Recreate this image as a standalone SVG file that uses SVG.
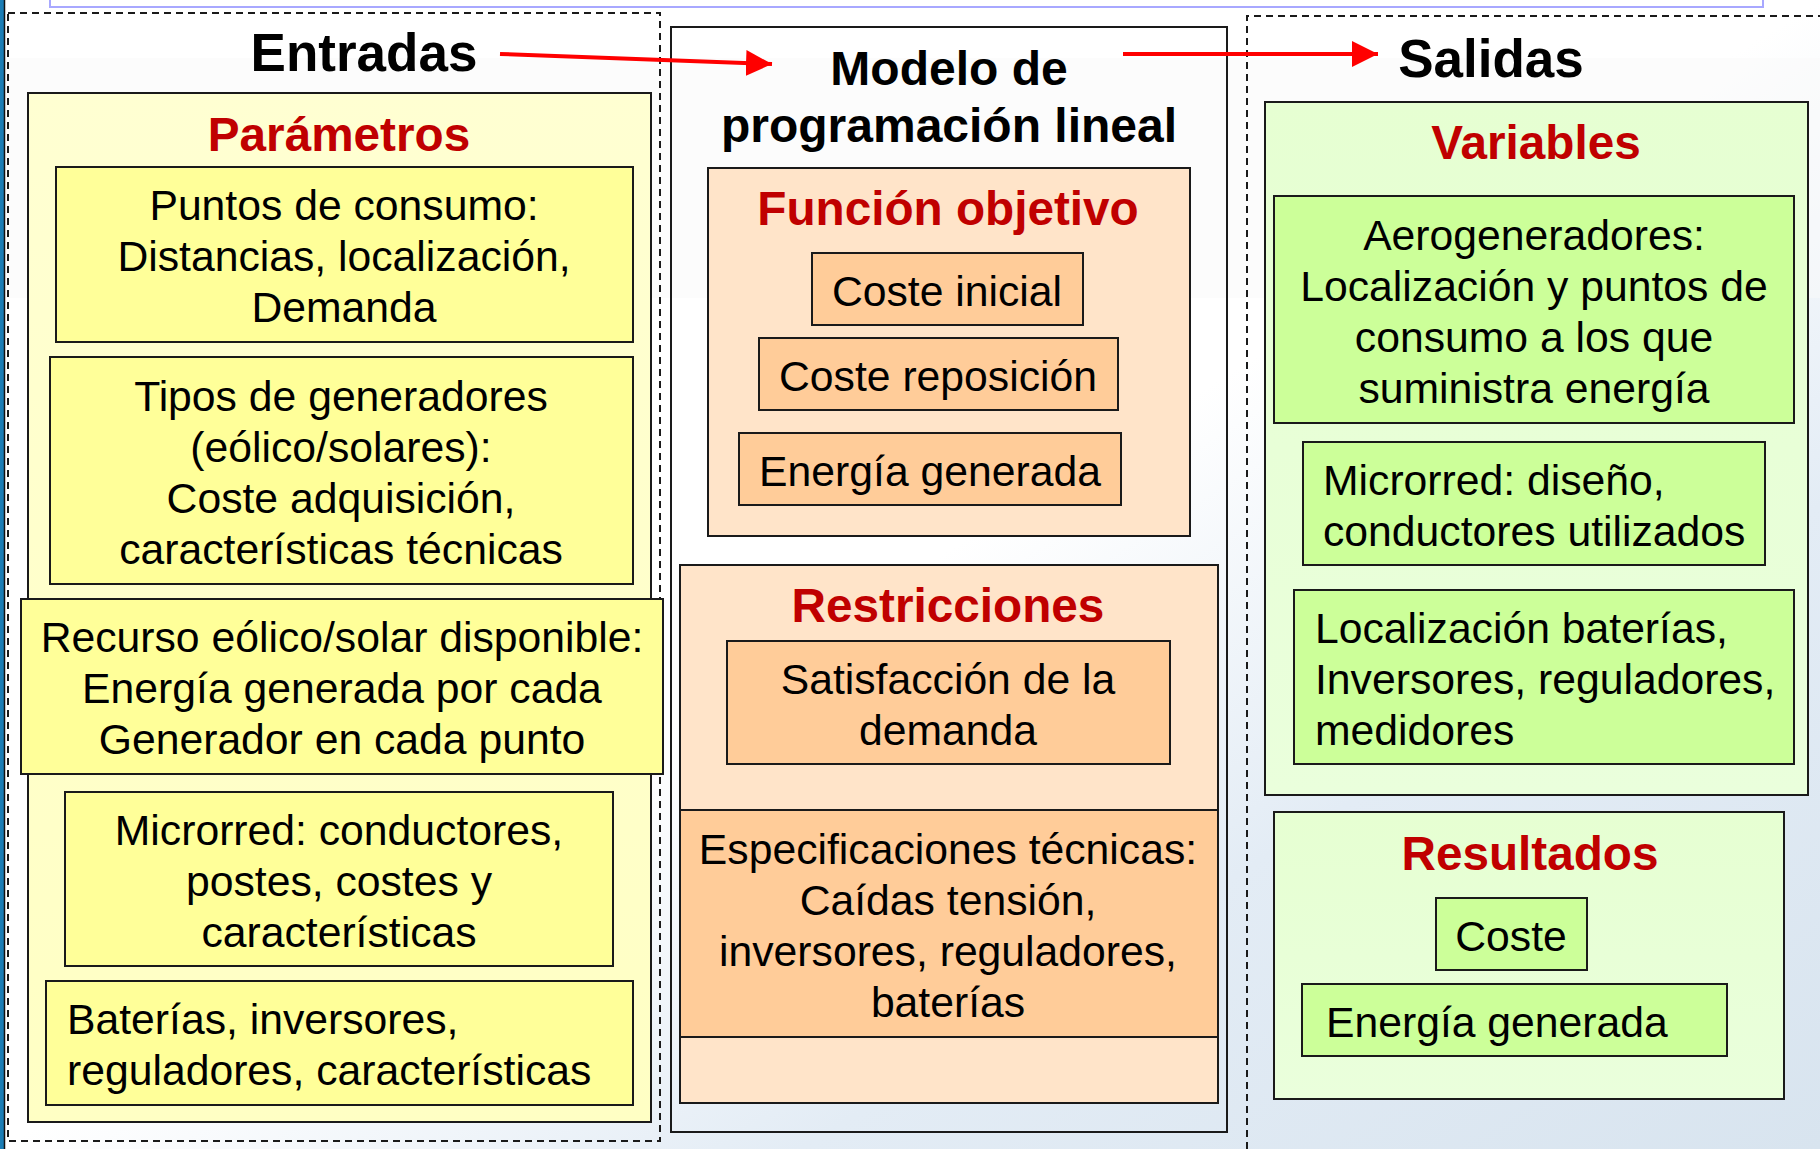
<svg xmlns="http://www.w3.org/2000/svg" width="1820" height="1149" viewBox="0 0 1820 1149">
<defs>
<linearGradient id="bg" x1="0" y1="0" x2="1" y2="1">
<stop offset="0" stop-color="#ffffff"/>
<stop offset="0.5" stop-color="#ffffff"/>
<stop offset="0.72" stop-color="#e3ecf5"/>
<stop offset="1" stop-color="#d8e4ef"/>
</linearGradient>
<linearGradient id="yel" x1="0" y1="0" x2="0" y2="1">
<stop offset="0" stop-color="#ffffd2"/>
<stop offset="1" stop-color="#ffffc4"/>
</linearGradient>
<linearGradient id="grn" x1="0" y1="0" x2="0" y2="1">
<stop offset="0" stop-color="#e6ffd2"/>
<stop offset="1" stop-color="#eaffdc"/>
</linearGradient>
<marker id="ah" viewBox="0 0 10 10" refX="10" refY="5" markerWidth="6.5" markerHeight="6.5" markerUnits="strokeWidth" orient="auto">
<path d="M0,0 L10,5 L0,10 Z" fill="#ff0000"/>
</marker>
<style>
.t{font-family:"Liberation Sans",Arial,sans-serif;fill:#000}
.h{font-size:53px;font-weight:bold}
.m{font-size:48px;font-weight:bold}
.s{font-size:47.7px;font-weight:bold;fill:#c00000}
.b{font-size:42.7px;transform:translate(0,1.5px)}
.c{text-anchor:middle}
.box{stroke:#1a1a1a;stroke-width:2}
.dash{fill:none;stroke:#1a1a1a;stroke-width:2;stroke-dasharray:7 5}
.y1{fill:url(#yel)}
.y2{fill:#ffff99}
.o1{fill:#ffe4c9}
.o2{fill:#ffcc99}
.g1{fill:url(#grn)}
.g2{fill:#ccff99}
.arr{stroke:#ff0000;stroke-width:4;fill:none}
</style>
</defs>
<rect x="0" y="0" width="1820" height="1149" fill="url(#bg)"/>
<rect x="0" y="58" width="1820" height="240" fill="#fafafa" opacity="0.5"/>
<rect x="50" y="-10" width="1713" height="17" fill="#ffffff" stroke="#a8a8ff" stroke-width="2"/>
<rect x="0" y="0" width="4" height="1149" fill="#1b7db5"/>
<line x1="4.5" y1="0" x2="4.5" y2="1149" stroke="#111" stroke-width="1.5"/>

<g id="entradas">
<rect x="8" y="13" width="652" height="1128" fill="#ffffff" class="dash"/>
<text class="t h c" x="364" y="71">Entradas</text>
</g>

<g id="parametros">
<rect class="box y1" x="28" y="93" width="623" height="1029"/>
<text class="t s c" x="339" y="151">Parámetros</text>
</g>

<g id="puntos-consumo">
<rect class="box y2" x="56" y="167" width="577" height="175"/>
<text class="t b c" x="344" y="218">Puntos de consumo:</text>
<text class="t b c" x="344" y="269">Distancias, localización,</text>
<text class="t b c" x="344" y="320">Demanda</text>
</g>

<g id="tipos-generadores">
<rect class="box y2" x="50" y="357" width="583" height="227"/>
<text class="t b c" x="341" y="409">Tipos de generadores</text>
<text class="t b c" x="341" y="460">(eólico/solares):</text>
<text class="t b c" x="341" y="511">Coste adquisición,</text>
<text class="t b c" x="341" y="562">características técnicas</text>
</g>

<g id="recurso">
<rect class="box y2" x="21" y="599" width="642" height="175"/>
<text class="t b c" x="342" y="650">Recurso eólico/solar disponible:</text>
<text class="t b c" x="342" y="701">Energía generada por cada</text>
<text class="t b c" x="342" y="752">Generador en cada punto</text>
</g>

<g id="microrred-entrada">
<rect class="box y2" x="65" y="792" width="548" height="174"/>
<text class="t b c" x="339" y="843">Microrred: conductores,</text>
<text class="t b c" x="339" y="894">postes, costes y</text>
<text class="t b c" x="339" y="945">características</text>
</g>

<g id="baterias-entrada">
<rect class="box y2" x="46" y="981" width="587" height="124"/>
<text class="t b" x="67" y="1032">Baterías, inversores,</text>
<text class="t b" x="67" y="1083">reguladores, características</text>
</g>

<g id="modelo">
<rect x="671" y="27" width="556" height="1105" fill="none" stroke="#1a1a1a" stroke-width="2"/>
<text class="t m c" x="949" y="85">Modelo de</text>
<text class="t m c" x="949" y="142">programación lineal</text>
</g>

<g id="funcion-objetivo">
<rect class="box o1" x="708" y="168" width="482" height="368"/>
<text class="t s c" x="948" y="225">Función objetivo</text>
</g>
<g id="coste-inicial">
<rect class="box o2" x="812" y="253" width="271" height="72"/>
<text class="t b c" x="947" y="304">Coste inicial</text>
</g>
<g id="coste-reposicion">
<rect class="box o2" x="759" y="338" width="359" height="72"/>
<text class="t b c" x="938" y="389">Coste reposición</text>
</g>
<g id="energia-fo">
<rect class="box o2" x="739" y="433" width="382" height="72"/>
<text class="t b c" x="930" y="484">Energía generada</text>
</g>

<g id="restricciones">
<rect class="box o1" x="680" y="565" width="538" height="538"/>
<text class="t s c" x="948" y="622">Restricciones</text>
</g>
<g id="satisfaccion">
<rect class="box o2" x="727" y="641" width="443" height="123"/>
<text class="t b c" x="948" y="692">Satisfacción de la</text>
<text class="t b c" x="948" y="743">demanda</text>
</g>
<g id="especificaciones">
<rect class="box o2" x="680" y="810" width="538" height="227"/>
<text class="t b c" x="948" y="862">Especificaciones técnicas:</text>
<text class="t b c" x="948" y="913">Caídas tensión,</text>
<text class="t b c" x="948" y="964">inversores, reguladores,</text>
<text class="t b c" x="948" y="1015">baterías</text>
</g>

<g id="salidas">
<path class="dash" d="M1247,1149 V16 H1820"/>
<text class="t h c" x="1491" y="77">Salidas</text>
</g>

<g id="variables">
<rect class="box g1" x="1265" y="102" width="543" height="693"/>
<text class="t s c" x="1536" y="159">Variables</text>
</g>
<g id="aerogeneradores">
<rect class="box g2" x="1274" y="196" width="520" height="227"/>
<text class="t b c" x="1534" y="248">Aerogeneradores:</text>
<text class="t b c" x="1534" y="299">Localización y puntos de</text>
<text class="t b c" x="1534" y="350">consumo a los que</text>
<text class="t b c" x="1534" y="401">suministra energía</text>
</g>
<g id="microrred-salida">
<rect class="box g2" x="1303" y="442" width="462" height="123"/>
<text class="t b" x="1323" y="493">Microrred: diseño,</text>
<text class="t b" x="1323" y="544">conductores utilizados</text>
</g>
<g id="localizacion">
<rect class="box g2" x="1294" y="590" width="500" height="174"/>
<text class="t b" x="1315" y="641">Localización baterías,</text>
<text class="t b" x="1315" y="692">Inversores, reguladores,</text>
<text class="t b" x="1315" y="743">medidores</text>
</g>

<g id="resultados">
<rect class="box g1" x="1274" y="812" width="510" height="287"/>
<text class="t s c" x="1530" y="870">Resultados</text>
</g>
<g id="coste">
<rect class="box g2" x="1436" y="898" width="151" height="72"/>
<text class="t b c" x="1511" y="949">Coste</text>
</g>
<g id="energia-res">
<rect class="box g2" x="1302" y="984" width="425" height="72"/>
<text class="t b" x="1326" y="1035">Energía generada</text>
</g>

<g id="connectors">
<line class="arr" x1="500" y1="54" x2="772" y2="64" marker-end="url(#ah)"/>
<line class="arr" x1="1123" y1="54" x2="1378" y2="54" marker-end="url(#ah)"/>
</g>
</svg>
